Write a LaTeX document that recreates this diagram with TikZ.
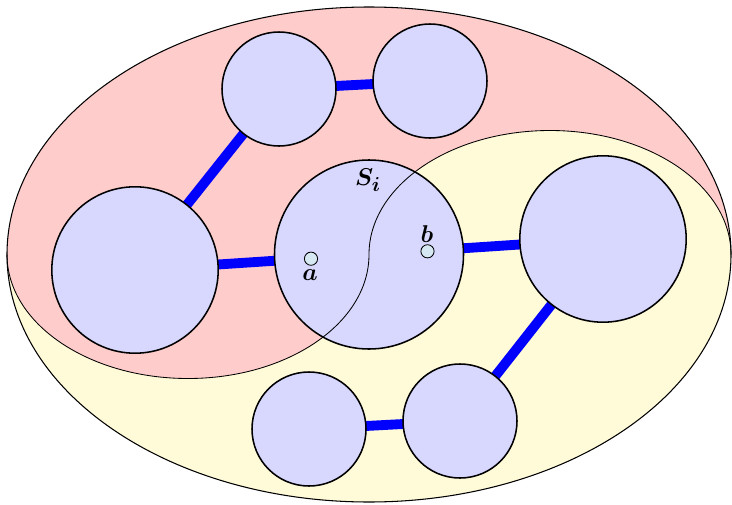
\documentclass[tikz,border=0pt]{standalone}
\usetikzlibrary{backgrounds}
\pgfdeclarelayer{edgelayer}
\pgfsetlayers{background,edgelayer,main}
\definecolor{pinkfill}{RGB}{255,204,204}
\definecolor{yellowfill}{RGB}{255,250,216}
\definecolor{lavender}{RGB}{216,216,255}
\definecolor{dotfill}{RGB}{214,232,242}
\tikzset{
  bubble/.style={circle, draw=black, line width=1.1pt, fill=lavender, inner sep=0pt},
  smallbubble/.style={bubble, minimum size=2.85cm},
  bigbubble/.style={bubble, minimum size=4.16cm},
  dot/.style={circle, draw=black, line width=0.6pt, fill=dotfill, inner sep=0pt, minimum size=0.33cm},
  link/.style={draw=blue, line width=7pt},
  lbl/.style={font=\fontsize{19}{22}\selectfont\boldmath, inner sep=0pt},
  border/.style={draw=black, line width=0.75pt}
}
\begin{document}
\begin{tikzpicture}
\useasboundingbox (0,0) rectangle (18.3,12.6);
% regions
\begin{pgfonlayer}{background}
\fill[yellowfill] (9.225,6.2375) ellipse [x radius=9.05, y radius=6.1875];
\fill[pinkfill] (0.175,6.2375)
  arc[start angle=180, end angle=0, x radius=9.05, y radius=6.1875]
  arc[start angle=0, end angle=180, x radius=4.525, y radius=3.1]
  arc[start angle=0, end angle=-180, x radius=4.525, y radius=3.1] -- cycle;
\draw[border] (9.225,6.2375) ellipse [x radius=9.05, y radius=6.1875];
\end{pgfonlayer}
% nodes
\node[smallbubble] (c1) at (6.975,10.375) {};
\node[smallbubble] (c2) at (10.75,10.575) {};
\node[bigbubble] (c3) at (3.375,5.85) {};
\node[bubble, minimum size=4.725cm] (si) at (9.225,6.2375) {};
\node[bigbubble] (c5) at (15.075,6.625) {};
\node[smallbubble] (c6) at (7.725,1.875) {};
\node[smallbubble] (c7) at (11.5,2.075) {};
% links
\begin{pgfonlayer}{edgelayer}
\draw[link] (c1.center) -- (c2.center);
\draw[link] (c1.center) -- (c3.center);
\draw[link] (c3.center) -- (si.center);
\draw[link] (si.center) -- (c5.center);
\draw[link] (c5.center) -- (c7.center);
\draw[link] (c6.center) -- (c7.center);
\end{pgfonlayer}
% dividing curve
\draw[border, line width=0.6pt] (0.175,6.2375)
  arc[start angle=180, end angle=360, x radius=4.525, y radius=3.1]
  arc[start angle=180, end angle=0, x radius=4.525, y radius=3.1];
% points and labels
\node[dot] (a) at (7.775,6.1325) {};
\node[dot] (b) at (10.6875,6.3175) {};
\node[lbl] (la) at (7.75,5.72) {$a$};
\node[lbl] (lb) at (10.675,6.75) {$b$};
\node[lbl] (lsi) at (9.2,8.1) {$S_i$};
\end{tikzpicture}
\end{document}
